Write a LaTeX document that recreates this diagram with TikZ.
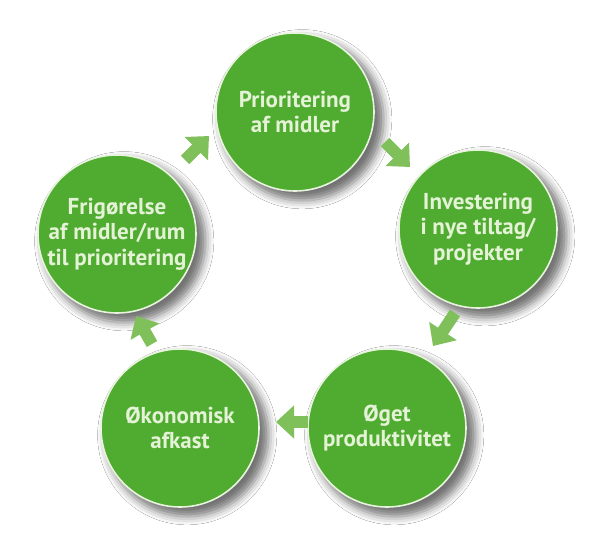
\documentclass[tikz,border=0pt]{standalone}
\usepackage{fontspec}
\setmainfont{PT Sans}
\usetikzlibrary{shadows.blur,arrows.meta}
\definecolor{bubblegreen}{RGB}{80,171,49}
\definecolor{arrowgreen}{RGB}{128,192,90}
\definecolor{textpale}{RGB}{228,242,214}
\definecolor{ringpale}{RGB}{232,244,222}
\tikzset{
  bubble/.style={circle, minimum size=158pt, inner sep=0pt, fill=bubblegreen,
    draw=ringpale, line width=1.6pt, align=center, text=textpale,
    font=\bfseries\fontsize{23}{25.5}\selectfont,
    blur shadow={shadow xshift=7pt, shadow yshift=-7pt, shadow scale=1.03,
      shadow blur radius=8pt, shadow opacity=55}},
  blockarrow/.style={draw=arrowgreen, line width=12pt, line cap=butt,
    -{Triangle[width=32pt,length=18pt,fill=arrowgreen]}}
}
\begin{document}
\begin{tikzpicture}[x=1pt,y=-1pt]
\useasboundingbox[fill=white] (0,0) rectangle (598,535);
\node[bubble] (p1) at (295,112) {Prioritering\\af midler};
\node[bubble] (p2) at (478,229) {Investering\\i nye tiltag/\\projekter};
\node[bubble] (p3) at (387,428) {Øget\\produktivitet};
\node[bubble] (p4) at (180,428) {Økonomisk\\afkast};
\node[bubble] (p5) at (117,234) {Frigørelse\\af midler/rum\\til prioritering};
% arrows
\coordinate (a1s) at (385,142); \coordinate (a1e) at (410,167);
\coordinate (a2s) at (455,313); \coordinate (a2e) at (433,346);
\coordinate (a3s) at (308,422); \coordinate (a3e) at (276,422);
\coordinate (a4s) at (152,344); \coordinate (a4e) at (136,316);
\coordinate (a5s) at (185,160); \coordinate (a5e) at (209,136);
\draw[blockarrow] (a1s) -- (a1e);
\draw[blockarrow] (a2s) -- (a2e);
\draw[blockarrow] (a3s) -- (a3e);
\draw[blockarrow] (a4s) -- (a4e);
\draw[blockarrow] (a5s) -- (a5e);
\end{tikzpicture}
\end{document}
